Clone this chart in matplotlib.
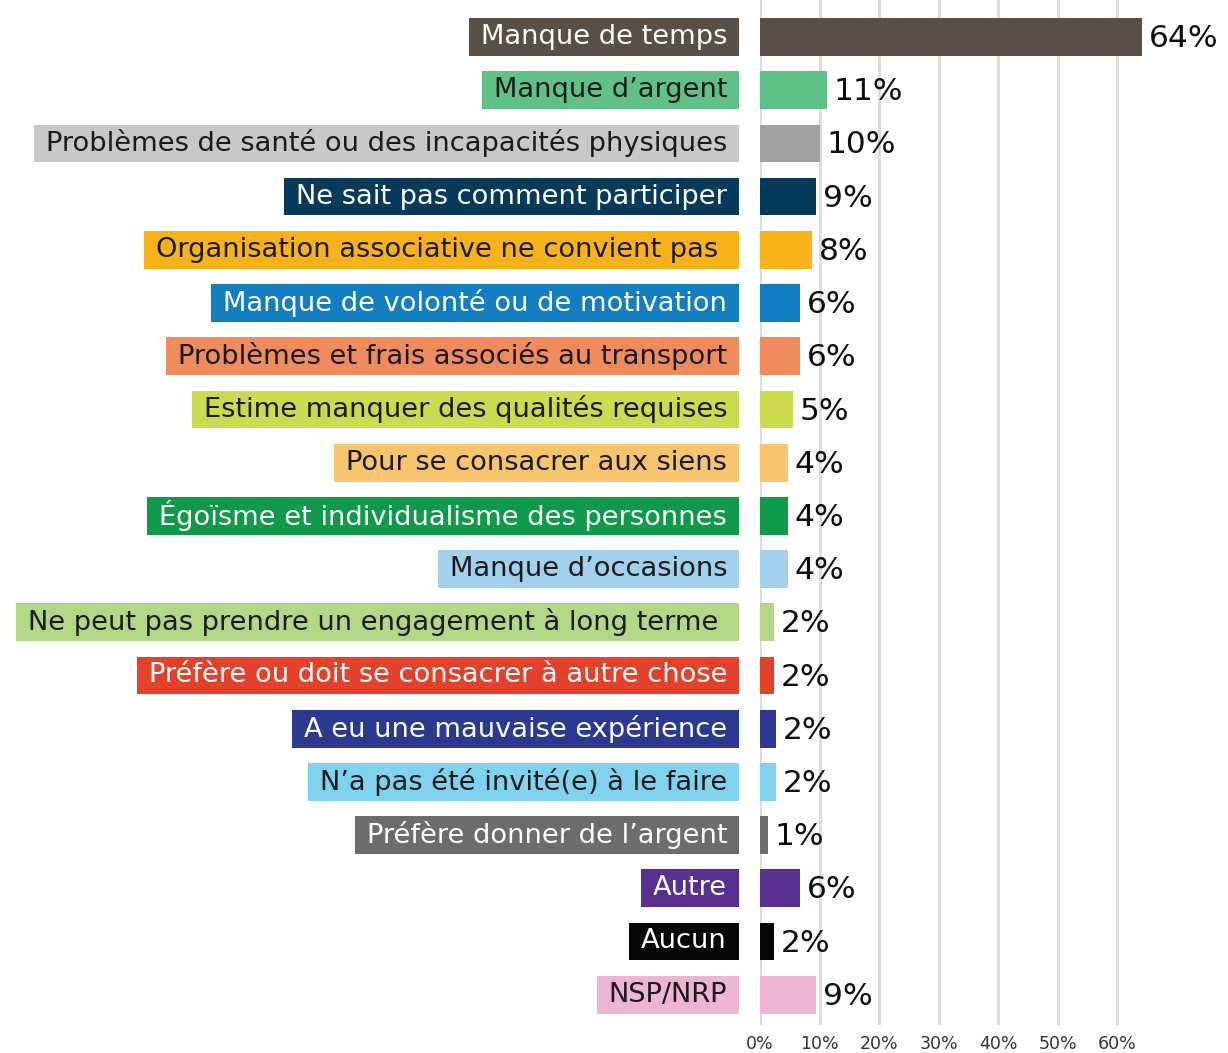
import matplotlib
matplotlib.use("Agg")
import matplotlib.pyplot as plt
from matplotlib.patches import Rectangle
from matplotlib.transforms import offset_copy

categories = [
    "Manque de temps",
    "Manque d\u2019argent",
    "Probl\u00e8mes de sant\u00e9 ou des incapacit\u00e9s physiques",
    "Ne sait pas comment participer",
    "Organisation associative ne convient pas ",
    "Manque de volont\u00e9 ou de motivation",
    "Probl\u00e8mes et frais associ\u00e9s au transport",
    "Estime manquer des qualit\u00e9s requises",
    "Pour se consacrer aux siens",
    "\u00c9go\u00efsme et individualisme des personnes",
    "Manque d\u2019occasions",
    "Ne peut pas prendre un engagement \u00e0 long terme ",
    "Pr\u00e9f\u00e8re ou doit se consacrer \u00e0 autre chose",
    "A eu une mauvaise exp\u00e9rience",
    "N\u2019a pas \u00e9t\u00e9 invit\u00e9(e) \u00e0 le faire",
    "Pr\u00e9f\u00e8re donner de l\u2019argent",
    "Autre",
    "Aucun",
    "NSP/NRP",
]
values = [64.2, 11.2, 10.1, 9.4, 8.7, 6.7, 6.7, 5.5, 4.7, 4.7, 4.7,
          2.4, 2.4, 2.7, 2.7, 1.3, 6.7, 2.4, 9.4]
value_labels = ["64%", "11%", "10%", "9%", "8%", "6%", "6%", "5%", "4%", "4%",
                "4%", "2%", "2%", "2%", "2%", "1%", "6%", "2%", "9%"]
bar_colors = ["#5a4f46", "#60c187", "#a1a1a1", "#053a5a", "#f9b218", "#137fc1",
              "#ef8b5d", "#cadc4d", "#f6c56d", "#0f9a4a", "#a1d1ed", "#b3d885",
              "#e4412a", "#2b3990", "#80d3ee", "#6e6c68", "#583090", "#060606",
              "#eeb4d3"]
label_colors = ["#5a4f46", "#60c187", "#c8c8c8", "#053a5a", "#f9b218", "#137fc1",
                "#ef8b5d", "#cadc4d", "#f6c56d", "#0f9a4a", "#a1d1ed", "#b3d885",
                "#e4412a", "#2b3990", "#80d3ee", "#6e6c68", "#583090", "#060606",
                "#eeb4d3"]
text_colors = ["white", "#1a1a1a", "#1a1a1a", "white", "#1a1a1a", "white",
               "#1a1a1a", "#1a1a1a", "#1a1a1a", "white", "#1a1a1a", "#1a1a1a",
               "white", "white", "#1a1a1a", "white", "white", "white", "#1a1a1a"]
ticks = [0, 10, 20, 30, 40, 50, 60]
tick_labels = ["0%", "10%", "20%", "30%", "40%", "50%", "60%"]

W, H, DPI = 1228, 1053, 100
fig = plt.figure(figsize=(W / DPI, H / DPI), dpi=DPI)
plt.rcParams["font.family"] = ["DejaVu Sans"]

ax_left = 760 / W
ax_bottom = (H - 1025) / H
ax = fig.add_axes([ax_left, ax_bottom, 1 - ax_left, 1 - ax_bottom])

n = len(categories)
ypos = list(range(n))
ax.barh(ypos, values, height=0.71, color=bar_colors, zorder=3)
ax.set_xlim(0, 468 / 5.95)
ax.set_ylim(18.57, -0.695)

for y, v, lab in zip(ypos, values, value_labels):
    ax.annotate(lab, xy=(v, y + 0.03), xytext=(5, 0), textcoords="offset points",
                ha="left", va="center", fontsize=22.5, color="#0d0d0d", zorder=4)

ax.set_xticks(ticks)
ax.set_xticklabels(tick_labels, fontsize=12.5, color="#333333")
ax.set_yticks([])
ax.tick_params(axis="x", length=0, pad=7.5)
ax.grid(axis="x", color="#dddddd", linewidth=2.2, zorder=0)
ax.set_axisbelow(True)
for s in ax.spines.values():
    s.set_visible(False)

# category labels with colored boxes
trans = offset_copy(ax.get_yaxis_transform(), fig=fig, x=-33, y=0, units="dots")
texts = []
for y, cat, tc in zip(ypos, categories, text_colors):
    t = ax.text(0, y, cat, transform=trans, ha="right", va="center",
                fontsize=19.6, color=tc, zorder=5, clip_on=False)
    texts.append(t)

fig.canvas.draw()
renderer = fig.canvas.get_renderer()
inv = fig.transFigure.inverted()
box_right = ax.transAxes.transform((0, 0))[0] - 21
for y, t, bc in zip(ypos, texts, label_colors):
    ext = t.get_window_extent(renderer)
    y_top = ax.transData.transform((0, y - 0.355))[1]
    y_bot = ax.transData.transform((0, y + 0.355))[1]
    x0 = ext.x0 - 12
    (fx0, fy0) = inv.transform((x0, y_bot))
    (fx1, fy1) = inv.transform((box_right, y_top))
    rect = Rectangle((fx0, fy0), fx1 - fx0, fy1 - fy0, transform=fig.transFigure,
                     facecolor=bc, edgecolor="none", zorder=1)
    fig.add_artist(rect)
    t.remove()
    t.set_zorder(6)
    fig.add_artist(t)

fig.savefig("out.png", dpi=DPI)
